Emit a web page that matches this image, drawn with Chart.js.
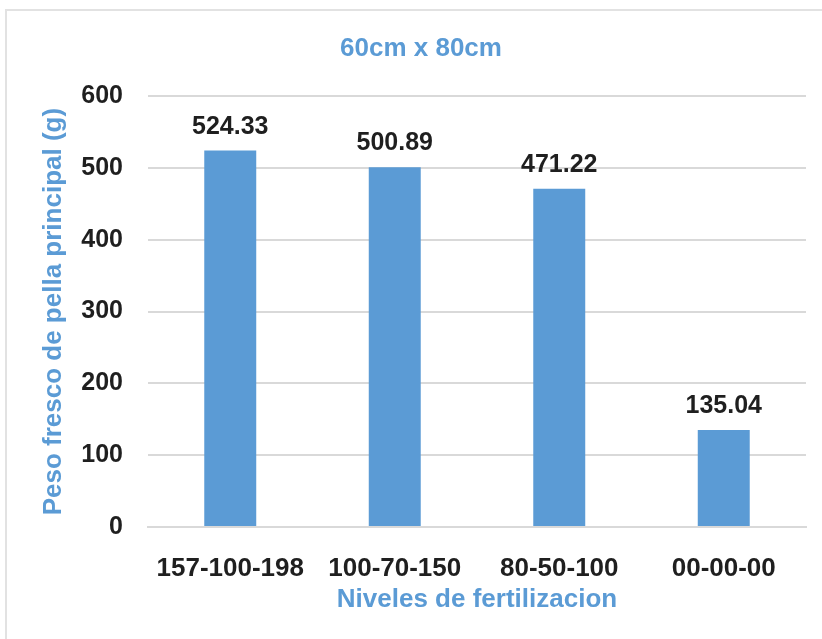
<!DOCTYPE html>
<html>
<head>
<meta charset="utf-8">
<script src="https://cdn.jsdelivr.net/npm/chart.js@4.4.1/dist/chart.umd.min.js"></script>
<style>
  html, body { margin: 0; padding: 0; background: #fff; overflow: hidden; }
  #marco { position: absolute; left: 5px; top: 9px; width: 900px; height: 700px; border: 2px solid #e2e2e2; }
  #grafico { position: absolute; left: 0; top: 0; }
</style>
</head>
<body>
<div id="marco"></div>
<canvas id="grafico" width="822" height="639"></canvas>
<script>
// Datos
const niveles = ['157-100-198', '100-70-150', '80-50-100', '00-00-00'];
const pesoFresco = [524.33, 500.89, 471.22, 135.04];
const ticksY = [0, 100, 200, 300, 400, 500, 600];

const azul = '#5B9BD5';
const texto = '#1f1f1f';
const gris = '#d9d9d9';
const fuente = "'Liberation Sans', Arial, sans-serif";

// Etiquetas de valor encima de cada barra
const etiquetasValor = {
  id: 'etiquetasValor',
  afterDatasetsDraw(chart) {
    const ctx = chart.ctx;
    const meta = chart.getDatasetMeta(0);
    ctx.save();
    ctx.font = 'bold 25px ' + fuente;
    ctx.fillStyle = texto;
    ctx.textAlign = 'center';
    ctx.textBaseline = 'alphabetic';
    meta.data.forEach((barra, i) => {
      ctx.fillText(pesoFresco[i].toFixed(2), barra.x, barra.y - 17);
    });
    ctx.restore();
  }
};

new Chart(document.getElementById('grafico'), {
  type: 'bar',
  data: {
    labels: niveles,
    datasets: [{
      data: pesoFresco,
      backgroundColor: azul,
      borderWidth: 0,
      categoryPercentage: 1,
      barPercentage: 0.316
    }]
  },
  options: {
    responsive: false,
    animation: false,
    layout: { padding: { left: 36, right: 16, top: 0, bottom: 0 } },
    plugins: {
      legend: { display: false },
      tooltip: { enabled: false },
      title: {
        display: true,
        text: '60cm x 80cm',
        color: azul,
        font: { family: fuente, size: 26, weight: 'bold' },
        padding: { top: 33, bottom: 32 }
      }
    },
    scales: {
      x: {
        grid: { display: false },
        border: { display: true, color: gris, width: 2 },
        ticks: {
          color: texto,
          padding: 18,
          font: { family: fuente, size: 26, weight: 'bold' }
        },
        title: {
          display: true,
          text: 'Niveles de fertilizacion',
          color: azul,
          font: { family: fuente, size: 26, weight: 'bold' },
          padding: { top: 0, bottom: 24 }
        },
        afterFit(scale) { scale.height = 112; }
      },
      y: {
        min: 0,
        max: 600,
        afterBuildTicks(scale) { scale.ticks = ticksY.map(v => ({ value: v })); },
        grid: { color: gris, lineWidth: 2, drawTicks: false },
        border: { display: false },
        ticks: {
          color: texto,
          padding: 25,
          font: { family: fuente, size: 25, weight: 'bold' }
        },
        title: {
          display: true,
          text: 'Peso fresco de pella principal (g)',
          color: azul,
          font: { family: fuente, size: 26, weight: 'bold' },
          padding: { top: 2, bottom: 0 }
        },
        afterFit(scale) { scale.width = 112; }
      }
    }
  },
  plugins: [etiquetasValor]
});
</script>
</body>
</html>
